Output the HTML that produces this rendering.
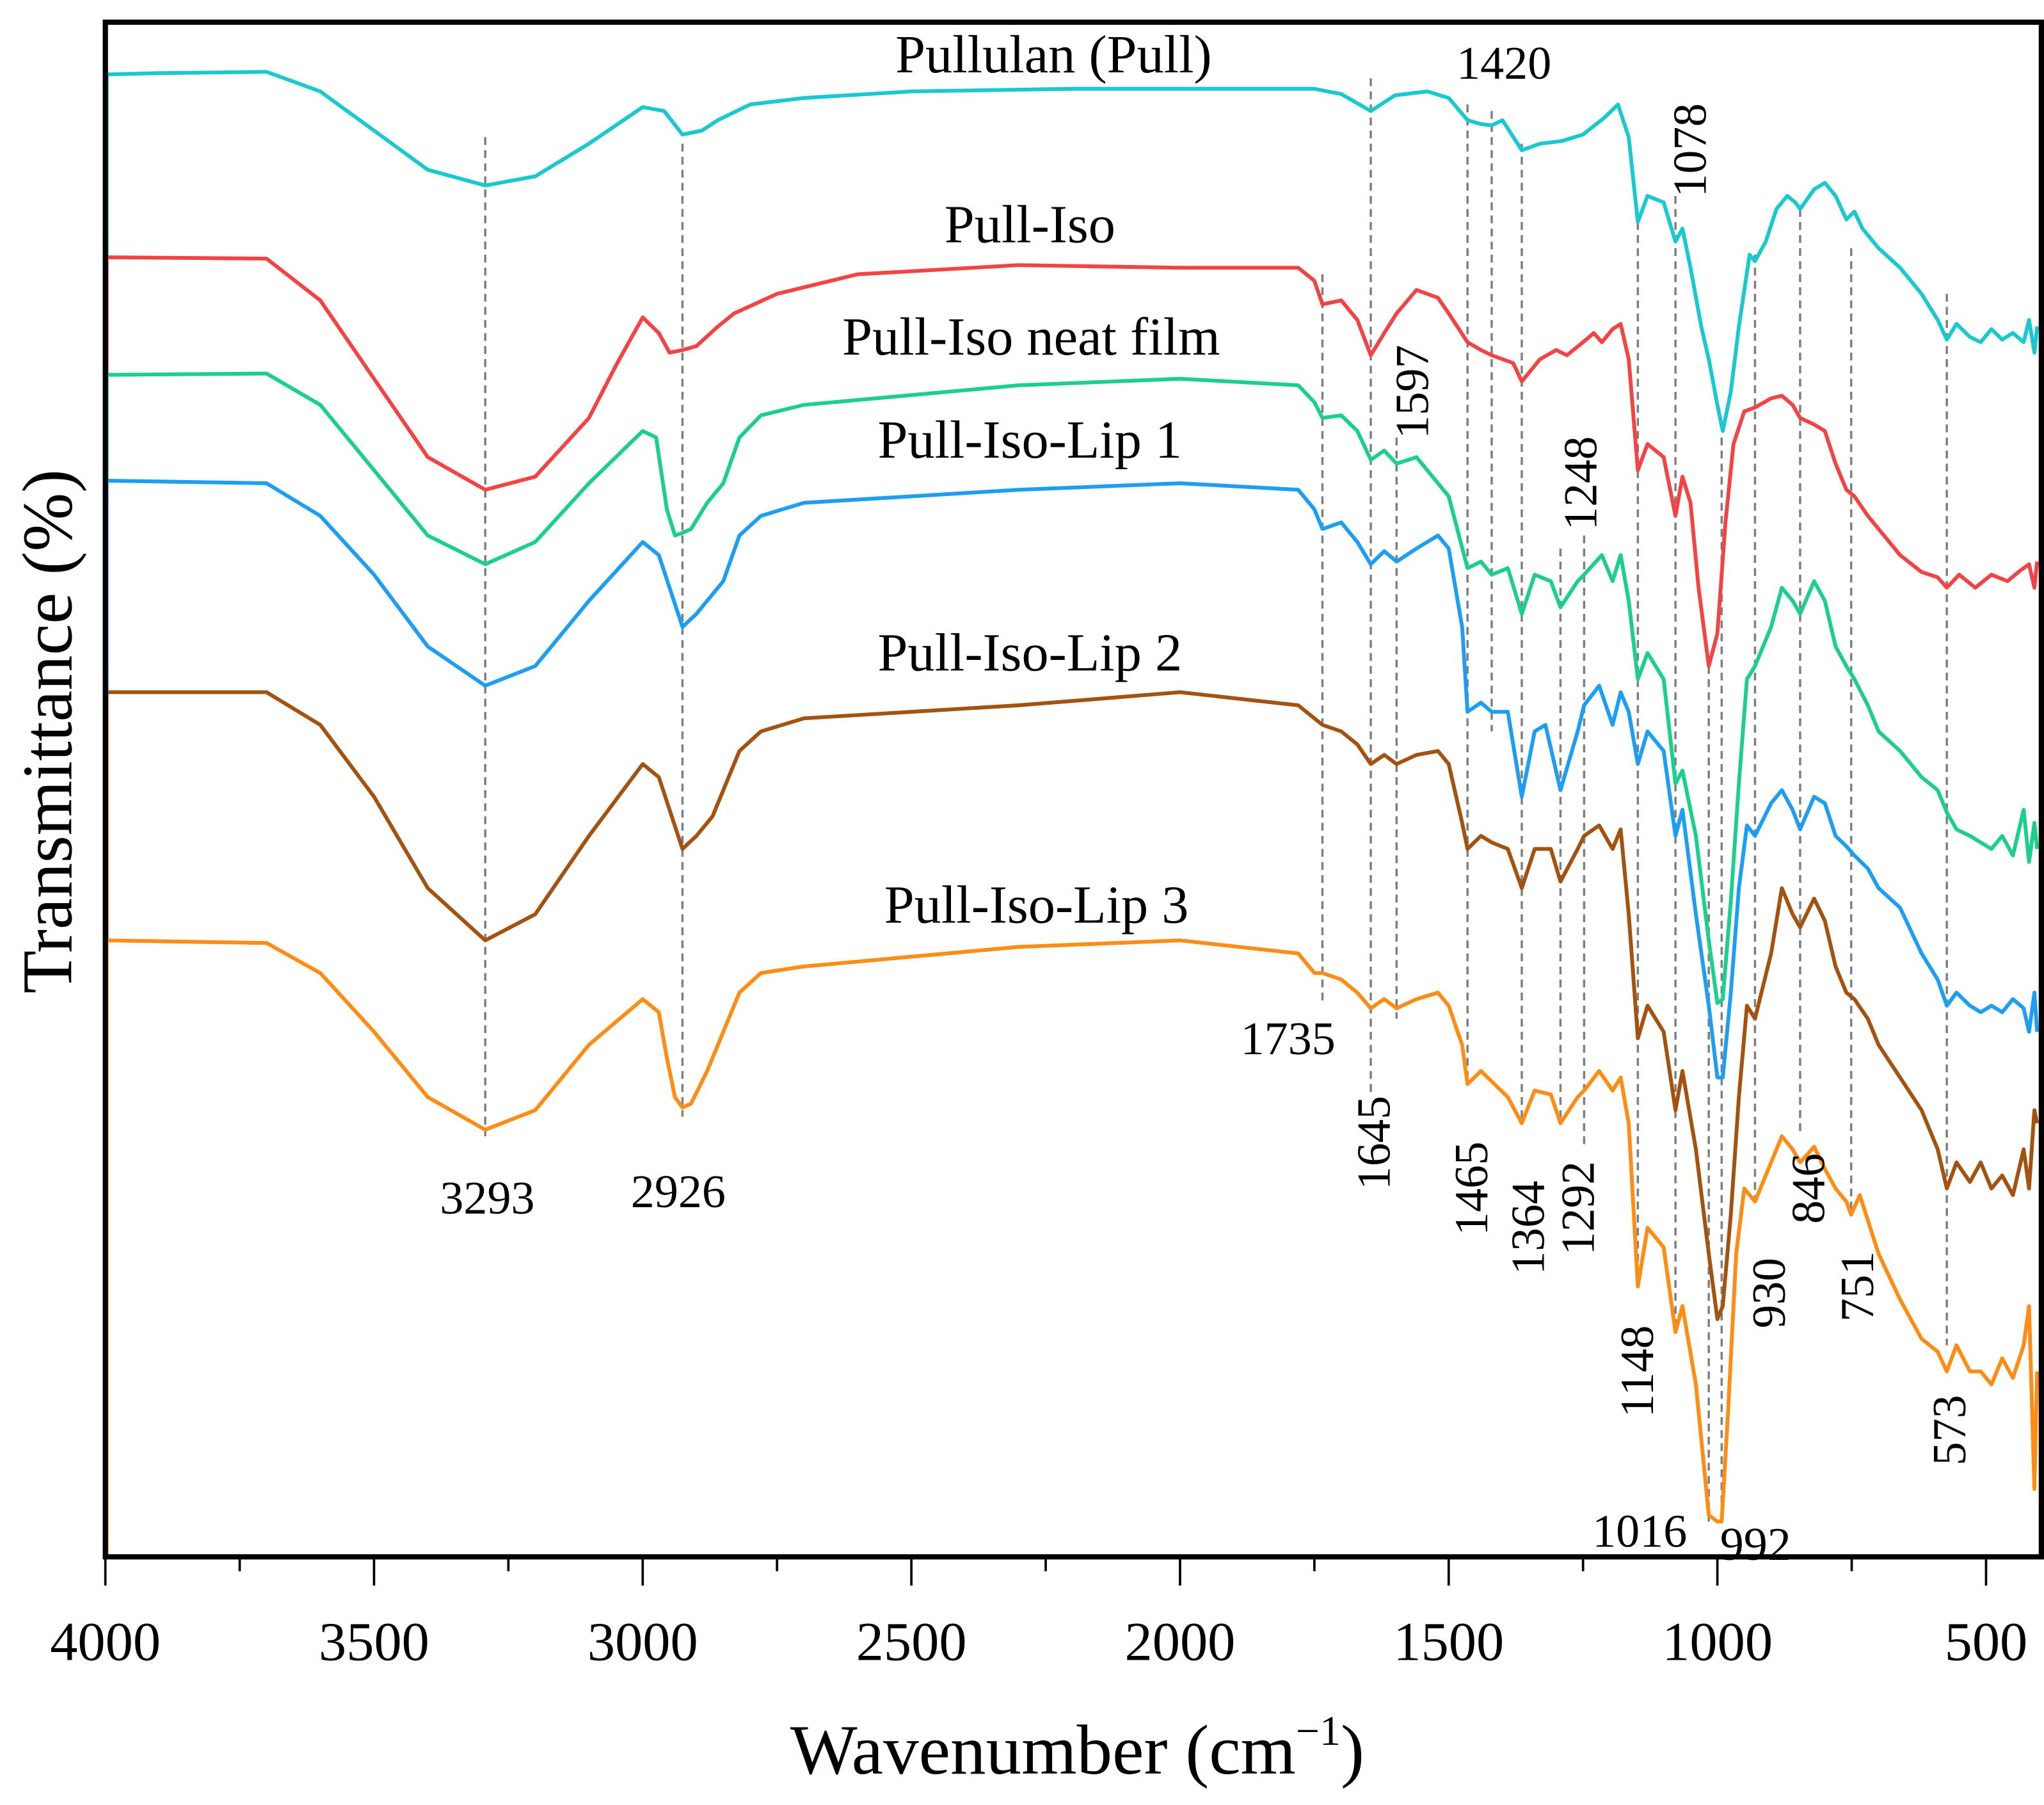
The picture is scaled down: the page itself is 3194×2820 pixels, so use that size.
<!DOCTYPE html>
<html><head><meta charset="utf-8"><style>
html,body{margin:0;padding:0;background:#fff}
svg{display:block}
text{font-family:"Liberation Serif",serif;fill:#000}
</style></head><body>
<svg id="chart" width="3194" height="2820" viewBox="0 0 1552 1382" preserveAspectRatio="none" xmlns="http://www.w3.org/2000/svg">
<g id="plot"></g>
<g id="axes"></g>
</svg>
<script>
// ---- data ----
const xTicks = [4000,3500,3000,2500,2000,1500,1000,500];
const xMinorTicks = [3750,3250,2750,2250,1750,1250,750];
const seriesNames = ["Pullulan (Pull)","Pull-Iso","Pull-Iso neat film","Pull-Iso-Lip 1","Pull-Iso-Lip 2","Pull-Iso-Lip 3"];
const seriesColors = ["#19C9CF","#F24444","#1DCF8C","#1E9EF2","#A4520F","#FF8C14"];

const wnPull = [4000,3900,3700,3600,3500,3400,3293,3200,3100,3000,2960,2926,2890,2860,2800,2700,2500,2200,2000,1750,1700,1645,1600,1540,1500,1465,1440,1420,1400,1364,1330,1290,1250,1210,1185,1165,1148,1130,1100,1078,1065,1050,1030,1016,1000,990,975,960,940,930,910,890,870,855,846,820,800,780,760,745,730,700,660,620,590,573,555,530,510,490,470,450,430,420,410,405];
const tPull = [114.3,114.4,114.5,113,110,107,105.8,106.5,109,111.8,111.5,109.7,110,110.8,112,112.5,113,113.2,113.2,113.2,112.8,111.5,112.7,113,112.5,110.8,110.5,110.4,110.8,108.5,109,109.2,109.7,111,112,109.5,103,105,104.5,101.5,102.5,99.5,95,92.5,89,87,90,95,100.5,100,101.5,104,105,104.5,104,105.5,106,105,103.2,103.8,102.5,101,99.5,97.5,95.5,94,95.2,94.2,93.8,94.8,94,94.5,93.8,95.5,93,95];

const wnIso = [4000,3700,3600,3500,3400,3293,3200,3100,3050,3000,2970,2950,2926,2900,2860,2830,2750,2600,2300,2000,1780,1750,1735,1700,1670,1645,1620,1597,1560,1520,1500,1465,1440,1420,1380,1364,1330,1300,1280,1250,1230,1215,1195,1180,1165,1148,1130,1100,1078,1065,1050,1035,1016,1000,985,970,950,930,900,880,860,846,820,800,780,760,745,720,700,660,620,590,573,550,520,490,460,440,420,410,405];
const tIso = [100.3,100.2,97,91,85,82.5,83.5,88,92,95.7,94.5,93,93.2,93.5,95,96,97.5,99,99.7,99.5,99.5,98.5,96.7,97,95.5,92.8,94.5,96,97.8,97.2,96,93.8,93.2,92.8,92.2,90.8,92.5,93.2,92.8,93.8,94.5,93.8,94.8,95.2,92.5,84,86,85,80.5,83.5,81.5,75,69,71.5,80,86,88.5,88.8,89.5,89.7,89,88,87.5,87,84.5,82.5,82,80.5,79.5,77.5,76.2,75.8,75,76,75,76,75.5,76.2,76.8,75,77];

const wnNeat = [4000,3700,3600,3500,3400,3293,3200,3100,3000,2975,2955,2940,2926,2910,2880,2850,2820,2780,2700,2300,2000,1780,1750,1735,1700,1670,1645,1620,1597,1560,1520,1500,1465,1440,1420,1390,1364,1340,1310,1292,1260,1248,1215,1195,1180,1165,1148,1130,1100,1078,1065,1040,1016,1000,990,975,960,945,930,900,880,860,846,820,800,780,760,745,720,700,660,620,590,573,555,530,510,490,470,450,430,420,410,405];
const tNeat = [91.3,91.4,89,84,79,76.8,78.5,83,87,86.5,81,79,79.2,79.5,81.5,83,86.5,88.2,89,90.5,91,90.5,89.2,88,88.2,87,84.8,85.5,84.5,85,83,82,76.5,77,76,76.5,73,76,75.5,73.5,75.5,76,77.5,75.5,77.5,74,68,70,68,60,61,56,48,43.2,43.5,51,60,68,69,72,75,74,73,75.5,74,70.5,69,68,66,64,62.5,60.5,59.5,57.8,56.5,56,55.5,55,56,54.5,58,54,57,55];

const wnLip1 = [4000,3700,3600,3500,3400,3293,3200,3100,3000,2970,2950,2926,2900,2870,2850,2820,2780,2700,2300,2000,1780,1750,1735,1700,1670,1645,1620,1597,1560,1520,1500,1475,1465,1440,1420,1390,1364,1340,1320,1292,1260,1248,1220,1195,1180,1165,1148,1130,1100,1078,1065,1040,1016,1000,990,975,960,945,930,900,880,860,846,820,800,780,760,745,720,700,660,620,590,573,555,530,510,490,470,450,430,420,410,405];
const tLip1 = [83.2,83,80.5,76,70.5,67.5,69,74,78.5,77.5,75,72,73,74.5,75.5,79,80.5,81.5,82.5,83,82.5,81,79.5,80,78.5,76.8,77.8,77,78,79,78,72,65.5,66.2,65.5,65.5,59,64,64.5,59.5,64,66,67.5,64.5,67,65.5,61.5,64,62.5,56,58,50,43,37.5,37.5,44,52,56.8,56,58.5,59.5,58,56.5,59,58.5,56,55.2,54.5,53.5,52,50.5,47,45,43,44,43,42.5,43,42.5,43.5,42.8,41,44,41];

const wnLip2 = [4000,3700,3600,3500,3400,3293,3200,3100,3000,2970,2950,2926,2900,2870,2850,2820,2780,2700,2300,2000,1780,1750,1735,1700,1670,1645,1620,1597,1560,1520,1500,1475,1465,1440,1420,1390,1364,1340,1310,1292,1260,1248,1220,1195,1180,1165,1148,1130,1100,1078,1065,1040,1016,1000,990,975,960,945,930,900,880,860,846,820,800,780,760,745,720,700,660,620,590,573,555,530,510,490,470,450,430,420,410,405];
const tLip2 = [67,67,64.5,59,52,48,50,56,61.5,60.5,58,55,56,57.5,59.5,62.5,64,65,66,67,66,65,64.5,64,63,61.5,62.2,61.5,62.2,62.5,61.5,57,55,56,55.5,55,52,55,55,52.5,55,56,56.8,55,56.5,50,40.5,43,41,35,38,32,24,19,20,27,36,43,42,47,52,50,49,51.2,49.5,46,44,43.5,42,40,37.5,35,32,29,31,29.5,31,29,30,28.5,32,29,35,34];

const wnLip3 = [4000,3700,3600,3500,3400,3293,3200,3100,3000,2970,2955,2940,2926,2910,2880,2850,2820,2780,2700,2300,2000,1780,1750,1735,1700,1670,1645,1620,1597,1560,1520,1500,1475,1465,1440,1420,1390,1364,1340,1310,1292,1260,1248,1220,1195,1180,1165,1148,1130,1100,1078,1065,1040,1016,1000,992,980,965,950,930,900,880,860,846,820,800,780,760,751,735,700,660,620,590,573,555,530,510,490,470,450,430,420,410,405];
const tLip3 = [48,47.8,45.5,41,36,33.5,35,40,43.5,42.5,39,36,35.2,35.5,38,41,44,45.5,46,47.5,48,47,45.5,45.5,45,44,42.8,43.5,42.8,43.5,44,43,40,37,38,37.2,36,34,36.5,36.2,34,36,36.5,38,36.5,37.5,34,21.5,26,24.5,18,20,14,4,3.5,3.5,12,24,29,28,31,33,32,31,32.2,30.5,29,28,27,28.5,24,20.5,17.5,16.5,15,17,15,15,14,16,14.5,17,20,6,15];

const peakWn  = [3293,2926,1735,1645,1597,1465,1420,1364,1292,1248,1148,1078,1016,992,930,846,751,573];
const peakTop = [109.5,109,99,114,86.5,112,111.5,109,78,79,103,105,69,86.5,100.5,104,101,97.5];
const peakBot = [33,34.5,43,36,42,37,64,34,34,32,21,18,3.5,3.5,28,33,27,17];

// ---- scales ----
const X0=80, X1=1550, WN0=4000, PXPERWN=(1508-80)/3500;
function xs(w){return X0+(WN0-w)*PXPERWN;}
function ys(t){return 1200-t*10;}
const TOP=17, BOT=1192;

const NS="http://www.w3.org/2000/svg";
const plot=document.getElementById('plot'), axes=document.getElementById('axes');
function mk(tag,attrs,parent){const e=document.createElementNS(NS,tag);for(const k in attrs)e.setAttribute(k,attrs[k]);parent.appendChild(e);return e;}

const allWn=[wnPull,wnIso,wnNeat,wnLip1,wnLip2,wnLip3];
const allT=[tPull,tIso,tNeat,tLip1,tLip2,tLip3];

for(let i=0;i<allT.length;i++){
  const yA=ys(allT[i][0]); const yB=i<allT.length-1?ys(allT[i+1][0]):BOT;
  const seg=mk('line',{x1:X0+1,x2:X0+1,y1:yA,y2:yB,stroke:seriesColors[i],'stroke-width':2.8},plot);
  
  
}
for(let i=0;i<peakWn.length;i++){
  const l=mk('line',{x1:xs(peakWn[i]),x2:xs(peakWn[i]),y1:ys(peakTop[i]),y2:ys(peakBot[i]),stroke:'#7f7f7f','stroke-width':1.7,'stroke-dasharray':'6 4'},plot);
  
  
}
for(let i=0;i<allT.length;i++){
  const w=allWn[i], t=allT[i]; let d='';
  for(let j=0;j<w.length;j++){d+=(j?'L':'M')+xs(w[j]).toFixed(2)+' '+ys(t[j]).toFixed(2);}
  const p=mk('path',{d:d,fill:'none',stroke:seriesColors[i],'stroke-width':2.9,'stroke-linejoin':'round'},plot);
  
  
}
const fr=mk('rect',{x:X0,y:TOP,width:X1-X0,height:BOT-TOP,fill:'none',stroke:'#000','stroke-width':4},axes);


for(const v of xTicks){
  const t=mk('line',{x1:xs(v),x2:xs(v),y1:BOT,y2:BOT+22,stroke:'#000','stroke-width':1.8},axes);
  
  
  const tx=mk('text',{x:xs(v),y:1271,'text-anchor':'middle','font-size':42},axes);
  tx.textContent=v;
  
  
}
for(const v of xMinorTicks){
  const t=mk('line',{x1:xs(v),x2:xs(v),y1:BOT,y2:BOT+11,stroke:'#000','stroke-width':1.8},axes);
  
  
}
</script>
<script>
(function(){
const NS="http://www.w3.org/2000/svg";
const axes=document.getElementById('axes');
function txt(s,x,y,size,rot,name){
  const e=document.createElementNS(NS,'text');
  e.setAttribute('x',x);e.setAttribute('y',y);e.setAttribute('font-size',size);
  e.setAttribute('text-anchor','middle');e.setAttribute('dominant-baseline','central');
  if(rot)e.setAttribute('transform','rotate(-90 '+x+' '+y+')');
  e.textContent=s;
  
  
  axes.appendChild(e);return e;
}
txt('Transmittance (%)',36,560,54,true,'y-axis-title');
const xt=document.createElementNS(NS,'text');
xt.setAttribute('x',818);xt.setAttribute('y',1358);xt.setAttribute('font-size',54);xt.setAttribute('text-anchor','middle');
xt.innerHTML='Wavenumber (cm<tspan font-size="32" dy="-22">−1</tspan><tspan dy="22">)</tspan>';


axes.appendChild(xt);
txt('Pullulan (Pull)',800,42,41,false,'label-pullulan');
txt('Pull-Iso',782,172,41,false,'label-pull-iso');
txt('Pull-Iso neat film',783,258,41,false,'label-pull-iso-neat-film');
txt('Pull-Iso-Lip 1',782,337,41,false,'label-pull-iso-lip-1');
txt('Pull-Iso-Lip 2',782,500,41,false,'label-pull-iso-lip-2');
txt('Pull-Iso-Lip 3',787,693,41,false,'label-pull-iso-lip-3');
txt('3293',370,917,36,false,'peak-label-3293');
txt('2926',515,912,36,false,'peak-label-2926');
txt('1420',1142,48,36,false,'peak-label-1420');
txt('1735',978,795,36,false,'peak-label-1735');
txt('1016',1245,1172,36,false,'peak-label-1016');
txt('992',1333,1182,36,false,'peak-label-992');
txt('1078',1283,115,36,true,'peak-label-1078');
txt('1597',1072,300,36,true,'peak-label-1597');
txt('1248',1200,370,36,true,'peak-label-1248');
txt('1645',1043,875,36,true,'peak-label-1645');
txt('1465',1117,910,36,true,'peak-label-1465');
txt('1364',1160,940,36,true,'peak-label-1364');
txt('1292',1198,925,36,true,'peak-label-1292');
txt('1148',1243,1050,36,true,'peak-label-1148');
txt('930',1343,990,36,true,'peak-label-930');
txt('846',1373,910,36,true,'peak-label-846');
txt('751',1410,985,36,true,'peak-label-751');
txt('573',1480,1095,36,true,'peak-label-573');
})();
</script>
</body></html>
